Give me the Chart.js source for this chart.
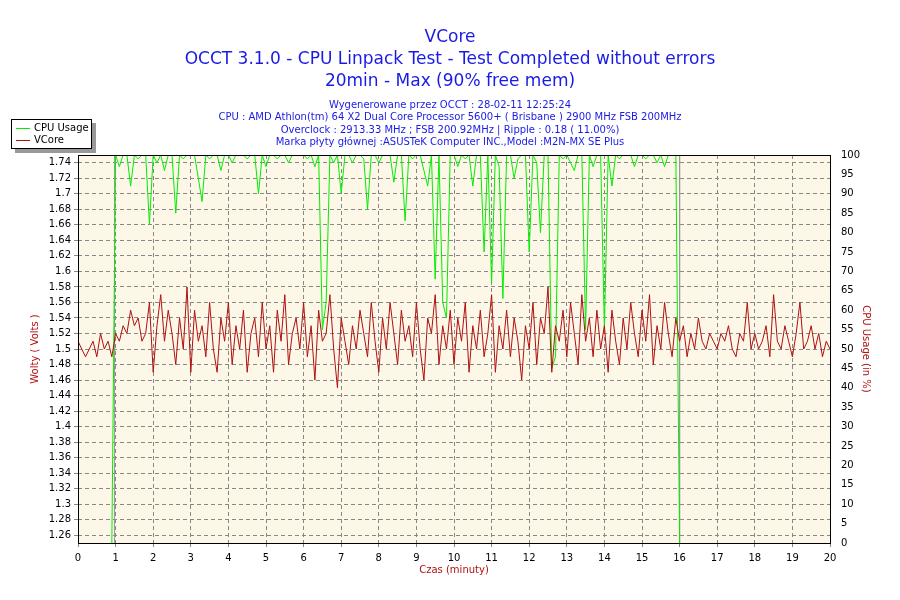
<!DOCTYPE html>
<html><head><meta charset="utf-8">
<script src="https://cdn.jsdelivr.net/npm/chart.js@4"></script>
<style>html,body{margin:0;padding:0;background:#fff}#w{width:900px;height:600px}</style>
</head><body><div id="w"><canvas id="c" width="900" height="600"></canvas></div>
<script>
const titleLines = ["VCore","OCCT 3.1.0 - CPU Linpack Test - Test Completed without errors","20min - Max (90% free mem)"];
const infoLines = ["Wygenerowane przez OCCT : 28-02-11 12:25:24",
 "CPU : AMD Athlon(tm) 64 X2 Dual Core Processor 5600+ ( Brisbane ) 2900 MHz FSB 200MHz",
 "Overclock : 2913.33 MHz ; FSB 200.92MHz | Ripple : 0.18 ( 11.00%)",
 "Marka płyty głównej :ASUSTeK Computer INC.,Model :M2N-MX SE Plus"];
const seriesNames = ["CPU Usage","VCore"];
const timeStep = 0.1;
const vcore = [
1.51,1.50,1.49,1.50,1.51,1.49,1.52,1.50,1.51,1.49,
1.52,1.51,1.53,1.52,1.55,1.53,1.54,1.51,1.52,1.56,
1.47,1.53,1.57,1.51,1.55,1.52,1.48,1.54,1.50,1.58,
1.47,1.55,1.51,1.53,1.49,1.56,1.50,1.47,1.54,1.51,
1.56,1.48,1.53,1.50,1.55,1.47,1.52,1.54,1.49,1.56,
1.50,1.53,1.47,1.55,1.51,1.57,1.48,1.52,1.54,1.50,
1.56,1.49,1.53,1.46,1.55,1.51,1.52,1.57,1.50,1.45,
1.54,1.51,1.48,1.53,1.50,1.55,1.52,1.49,1.56,1.51,
1.47,1.54,1.50,1.56,1.52,1.48,1.55,1.51,1.53,1.49,
1.56,1.50,1.46,1.54,1.52,1.57,1.48,1.53,1.50,1.55,
1.48,1.54,1.51,1.56,1.47,1.53,1.50,1.55,1.49,1.52,
1.57,1.47,1.53,1.50,1.55,1.49,1.54,1.51,1.46,1.53,
1.50,1.56,1.48,1.54,1.52,1.58,1.47,1.53,1.51,1.55,
1.49,1.56,1.52,1.48,1.57,1.51,1.54,1.49,1.55,1.50,
1.53,1.47,1.55,1.51,1.48,1.54,1.50,1.56,1.52,1.49,
1.55,1.51,1.57,1.48,1.53,1.50,1.56,1.52,1.49,1.54,
1.51,1.53,1.49,1.52,1.50,1.54,1.51,1.50,1.52,1.51,
1.50,1.52,1.51,1.53,1.50,1.49,1.52,1.51,1.56,1.50,
1.52,1.50,1.51,1.53,1.49,1.57,1.51,1.50,1.53,1.51,
1.49,1.52,1.56,1.50,1.51,1.53,1.50,1.52,1.49,1.51,
1.50];
const cpu = [
null,null,null,null,null,null,null,null,null,0,
100,97,100,100,92,100,99,100,100,82,
100,98,100,96,100,100,85,100,99,100,
100,100,94,88,100,99,100,100,96,100,
100,98,100,100,100,99,100,100,90,100,
97,100,100,99,100,100,98,100,100,100,
100,99,100,97,100,55,62,100,98,100,
90,100,100,98,100,100,99,86,100,100,
98,100,100,100,93,100,100,83,100,99,
100,100,96,92,100,68,100,62,58,100,
100,97,100,99,100,92,100,100,75,100,
67,100,97,63,100,100,94,99,100,100,
75,100,98,80,100,100,45,48,100,99,
100,98,96,100,100,55,100,97,100,100,
55,100,92,100,99,100,100,100,97,100,
100,99,100,100,98,100,97,100,100,100,
0,null,null,null,null,null,null,null,null,null,
null,null,null,null,null,null,null,null,null,null,
null,null,null,null,null,null,null,null,null,null,
null,null,null,null,null,null,null,null,null,null,
null];
const markerTimes = [0.97,0.97,null,16.0,16.0];
const markerValues = [0,100,null,100,0];
const vTicks = [1.26,1.28,1.3,1.32,1.34,1.36,1.38,1.4,1.42,1.44,1.46,1.48,1.5,1.52,1.54,1.56,1.58,1.6,1.62,1.64,1.66,1.68,1.7,1.72,1.74];

const toPts = a => a.map((v,i)=>({x:+(i*timeStep).toFixed(2),y:v}));
const markerPts = markerTimes.map((t,i)=>({x:t,y:markerValues[i]}));
const BLUE='#1a1ae6', RED='#b01010';
const FONT='"DejaVu Sans", Verdana, sans-serif';

const deco = {
 id:'deco',
 beforeDraw(ch){
   const {ctx,chartArea:a}=ch;
   ctx.save();ctx.fillStyle='#fdf7e8';ctx.fillRect(a.left,a.top,a.right-a.left,a.bottom-a.top);ctx.restore();
 },
 afterDraw(ch){
   const {ctx,chartArea:a}=ch;
   ctx.save();
   ctx.textAlign='center';ctx.textBaseline='middle';ctx.fillStyle=BLUE;
   ctx.font='17px '+FONT;
   ctx.fillText(titleLines[0],450,38);ctx.fillText(titleLines[1],450,60);ctx.fillText(titleLines[2],450,82);
   ctx.font='10px '+FONT;
   infoLines.forEach((t,i)=>ctx.fillText(t,450,105+i*12.5));
   ctx.strokeStyle='#000';ctx.lineWidth=1;
   ctx.strokeRect(a.left+0.5,a.top+0.5,a.right-a.left,a.bottom-a.top);
   ctx.fillStyle='#999';ctx.fillRect(15,123,81,30);
   ctx.fillStyle='#fff';ctx.fillRect(11,119,81,30);
   ctx.strokeStyle='#000';ctx.strokeRect(11.5,119.5,80,29);
   ctx.textAlign='left';ctx.font='10px '+FONT;ctx.fillStyle='#000';
   const cols=['#00ee00',RED];
   seriesNames.forEach((n,i)=>{const y=128+i*12;ctx.strokeStyle=cols[i];ctx.beginPath();ctx.moveTo(16,y+.5);ctx.lineTo(30,y+.5);ctx.stroke();ctx.fillText(n,34,y);});
   ctx.fillStyle=RED;ctx.textAlign='center';ctx.font='10px '+FONT;
   ctx.fillText('Czas (minuty)',454,570);
   ctx.save();ctx.translate(35,349);ctx.rotate(-Math.PI/2);ctx.fillText('Wolty ( Volts )',0,0);ctx.restore();
   ctx.save();ctx.translate(866,349);ctx.rotate(Math.PI/2);ctx.fillText('CPU Usage (in %)',0,0);ctx.restore();
   ctx.restore();
 }
};

new Chart(document.getElementById('c'),{
 type:'line',
 data:{datasets:[
  {label:'marker',data:markerPts,yAxisID:'y2',borderColor:'#999',borderWidth:1,pointRadius:0,spanGaps:false,order:3},
  {label:seriesNames[0],data:toPts(cpu),yAxisID:'y2',borderColor:'#00ee00',borderWidth:1,pointRadius:0,order:2},
  {label:seriesNames[1],data:toPts(vcore),yAxisID:'y',borderColor:RED,borderWidth:1,pointRadius:0,order:1}
 ]},
 options:{
  responsive:false,animation:false,devicePixelRatio:1,
  layout:{padding:{top:155,left:0,right:0,bottom:0}},
  plugins:{legend:{display:false},tooltip:{enabled:false}},
  scales:{
   x:{type:'linear',min:0,max:20,
      ticks:{stepSize:1,font:{size:10,family:FONT},color:'#000',padding:5,maxRotation:0},
      grid:{color:'#888',tickLength:4,drawTicks:true},border:{display:false,dash:[4,3]},
      afterFit:s=>{s.height=57;}},
   y:{position:'left',min:1.25,max:1.75,
      afterBuildTicks:s=>{s.ticks=vTicks.map(v=>({value:v}));},
      ticks:{font:{size:10,family:FONT},color:'#000',padding:3,callback:v=>String(+v.toFixed(2))},
      grid:{color:'#888',tickLength:4},border:{display:false,dash:[4,3]},
      afterFit:s=>{s.width=78;}},
   y2:{position:'right',min:0,max:100,
      ticks:{stepSize:5,font:{size:10,family:FONT},color:'#000',padding:3},
      grid:{display:false},border:{display:false},
      afterFit:s=>{s.width=70;}}
  }
 },
 plugins:[deco]
});
</script></body></html>
